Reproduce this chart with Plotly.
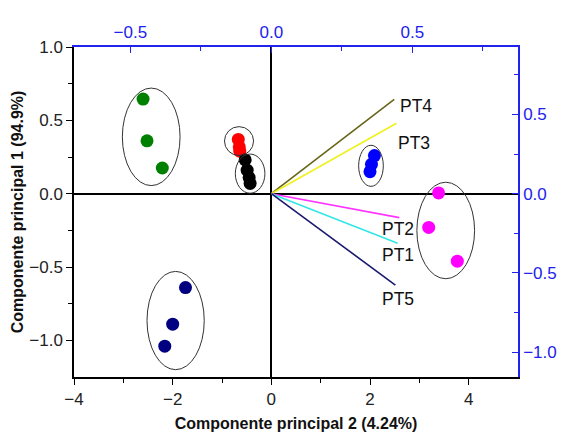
import plotly.graph_objects as go

# Sample scores (PC2 on x, PC1 on y)
groups = ["green", "red", "black", "blue", "magenta", "navy"]
group_colors = ["#008000", "#ff0000", "#000000", "#0000ff", "#ff00ff", "#000080"]
score_x = [
    [-2.60, -2.52, -2.21],
    [-0.67, -0.65, -0.64],
    [-0.53, -0.49, -0.45, -0.43],
    [2.09, 2.03, 2.00],
    [3.39, 3.19, 3.77],
    [-1.74, -2.00, -2.16],
]
score_y = [
    [0.645, 0.36, 0.175],
    [0.37, 0.32, 0.29],
    [0.23, 0.16, 0.11, 0.07],
    [0.26, 0.20, 0.15],
    [0.005, -0.23, -0.46],
    [-0.64, -0.89, -1.04],
]

# Confidence ellipses around each group: (x0, x1, y0, y1)
ellipse_bounds = [
    (-3.02, -1.85, 0.055, 0.72),
    (-0.95, -0.36, 0.26, 0.457),
    (-0.73, -0.13, 0.003, 0.27),
    (1.77, 2.27, 0.05, 0.33),
    (2.95, 4.12, -0.58, 0.078),
    (-2.52, -1.36, -1.20, -0.53),
]

# Variable loadings (top / right axes)
loading_names = ["PT4", "PT3", "PT2", "PT1", "PT5"]
loading_x = [0.436, 0.444, 0.454, 0.448, 0.440]
loading_y = [0.595, 0.444, -0.151, -0.312, -0.576]
loading_colors = ["#66661a", "#f0f020", "#ff33ff", "#33e6e6", "#1a1a70"]

FONT = "Liberation Sans, Arial"

fig = go.Figure()

for name, col, xs, ys in zip(groups, group_colors, score_x, score_y):
    fig.add_trace(go.Scatter(
        x=xs, y=ys, mode="markers", name=name,
        marker=dict(color=col, size=13, line=dict(width=0)),
        xaxis="x", yaxis="y", showlegend=False,
    ))

for name, col, lx, ly in zip(loading_names, loading_colors, loading_x, loading_y):
    fig.add_trace(go.Scatter(
        x=[0, lx], y=[0, ly], mode="lines", name=name,
        line=dict(color=col, width=1.6),
        xaxis="x2", yaxis="y2", showlegend=False,
    ))

for (x0, x1, y0, y1) in ellipse_bounds:
    fig.add_shape(type="circle", xref="x", yref="y", x0=x0, x1=x1, y0=y0, y1=y1,
                  line=dict(color="#333333", width=1))

# Loading labels near each vector tip
label_offsets = {
    "PT4": dict(xanchor="left", xshift=4, yshift=-7),
    "PT3": dict(xanchor="left", xshift=-1, yshift=-20),
    "PT2": dict(xanchor="center", xshift=-1, yshift=-11),
    "PT1": dict(xanchor="center", xshift=0, yshift=-12),
    "PT5": dict(xanchor="center", xshift=3, yshift=-14),
}
for name, lx, ly in zip(loading_names, loading_x, loading_y):
    fig.add_annotation(x=lx, y=ly, xref="x2", yref="y2", text=name, showarrow=False,
                       yanchor="middle",
                       font=dict(size=17.5, color="#111111", family=FONT),
                       **label_offsets[name])

tick_font = dict(size=17, family=FONT, color="#222222")
blue_font = dict(size=17, family=FONT, color="#2222ee")

fig.update_layout(
    width=561, height=433,
    margin=dict(l=74, r=43, t=47, b=56),
    plot_bgcolor="white", paper_bgcolor="white",
    xaxis=dict(
        range=[-4, 5], tickvals=[-4, -2, 0, 2, 4], ticks="outside", ticklen=6,
        tickwidth=1.3, tickcolor="black", showline=True, linecolor="black", linewidth=1.5,
        showgrid=False, zeroline=True, zerolinecolor="black", zerolinewidth=1.5,
        tickfont=tick_font, automargin=False,
        minor=dict(tickvals=[-3, -1, 1, 3], ticks="outside", ticklen=4, tickcolor="black"),
        title=dict(text="<b>Componente principal 2 (4.24%)</b>",
                   font=dict(size=16, family=FONT, color="#111111"),
                   standoff=10),
    ),
    yaxis=dict(
        range=[-1.25, 1.0], tickvals=[-1.0, -0.5, 0.0, 0.5, 1.0], tickformat=".1f",
        ticks="outside", ticklen=6, tickwidth=1.3, tickcolor="black",
        showline=True, linecolor="black", linewidth=1.5,
        showgrid=False, zeroline=True, zerolinecolor="black", zerolinewidth=1.5,
        tickfont=tick_font, automargin=False,
        minor=dict(tickvals=[-0.75, -0.25, 0.25, 0.75], ticks="outside", ticklen=4,
                   tickcolor="black"),
        title=dict(text="<b>Componente principal 1 (94.9%)</b>",
                   font=dict(size=16, family=FONT, color="#111111"),
                   standoff=2),
    ),
    xaxis2=dict(
        range=[-0.7, 0.875], overlaying="x", side="top", anchor="y",
        tickvals=[-0.5, 0.0, 0.5], tickformat=".1f", ticks="inside", ticklen=6,
        tickcolor="#2222ee", showline=True, linecolor="#2222ee", linewidth=1.5,
        showgrid=False, zeroline=False, tickfont=blue_font, automargin=False,
        minor=dict(tickvals=[-0.25, 0.25, 0.75], ticks="inside", ticklen=4,
                   tickcolor="#2222ee"),
    ),
    yaxis2=dict(
        range=[-1.156, 0.925], overlaying="y", side="right", anchor="x",
        tickvals=[-1.0, -0.5, 0.0, 0.5], tickformat=".1f", ticks="inside", ticklen=6,
        tickcolor="#2222ee", showline=True, linecolor="#2222ee", linewidth=1.5,
        showgrid=False, zeroline=False, tickfont=blue_font, automargin=False,
        minor=dict(tickvals=[-0.75, -0.25, 0.25, 0.75], ticks="inside", ticklen=4,
                   tickcolor="#2222ee"),
    ),
)

fig.write_html("out.html")
